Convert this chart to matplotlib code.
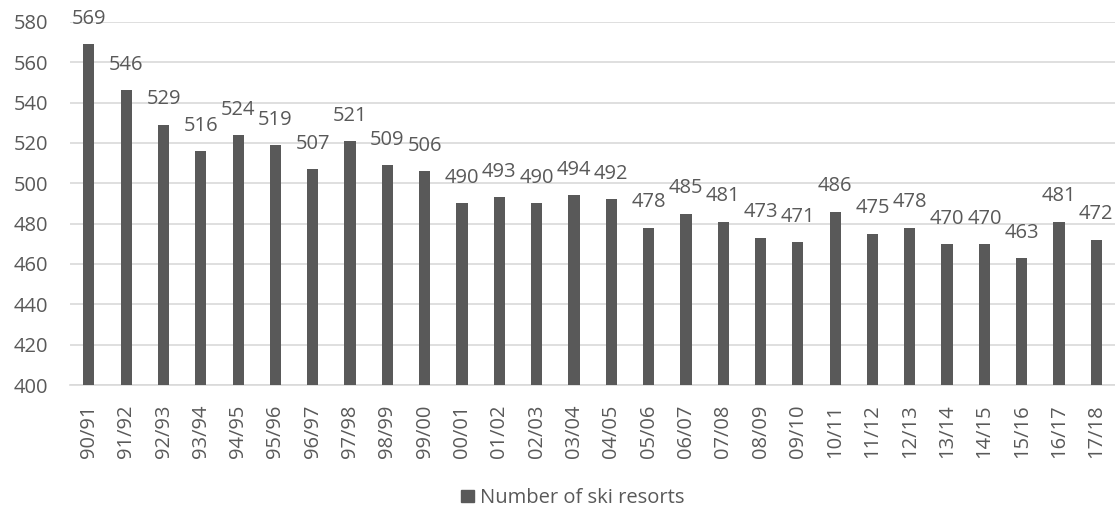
import matplotlib.pyplot as plt
from matplotlib.patches import Patch

# ski seasons and number of resorts per season
seasons = ["90/91", "91/92", "92/93", "93/94", "94/95", "95/96", "96/97", "97/98",
           "98/99", "99/00", "00/01", "01/02", "02/03", "03/04", "04/05", "05/06",
           "06/07", "07/08", "08/09", "09/10", "10/11", "11/12", "12/13", "13/14",
           "14/15", "15/16", "16/17", "17/18"]
resorts = [569, 546, 529, 516, 524, 519, 507, 521, 509, 506, 490, 493, 490, 494,
           492, 478, 485, 481, 473, 471, 486, 475, 478, 470, 470, 463, 481, 472]
yticks = [400, 420, 440, 460, 480, 500, 520, 540, 560, 580]

bar_color = "#595959"
text_color = "#595959"
grid_color = "#d9d9d9"

plt.rcParams['font.family'] = ['Open Sans', 'DejaVu Sans']
fs = 14.5

fig = plt.figure(figsize=(11.15, 5.08), dpi=100)
ax = fig.add_axes([0.063, 0.242, 0.937, 0.715])

x = range(len(seasons))
bars = ax.bar(x, resorts, width=0.3, color=bar_color, zorder=3)

# value labels above each bar
for xi, v in zip(x, resorts):
    ax.annotate(str(v), (xi, v), xytext=(0, 11), textcoords="offset points",
                ha="center", va="bottom", fontsize=fs, color=text_color)

ax.set_ylim(400, 580)
ax.set_yticks(yticks)
ax.set_xlim(-0.5, len(seasons) - 0.5)
ax.set_xticks(list(x))
ax.set_xticklabels(seasons, rotation=90)

ax.grid(axis="y", color=grid_color, linewidth=1.2, zorder=0)
for side in ["top", "right", "left"]:
    ax.spines[side].set_visible(False)
ax.spines["bottom"].set_color(grid_color)
ax.spines["bottom"].set_linewidth(1.2)
ax.tick_params(length=0, labelsize=fs, colors=text_color)
ax.tick_params(axis="y", pad=16)
ax.tick_params(axis="x", pad=14)

ax.legend(handles=[Patch(color=bar_color, label="Number of ski resorts")],
          loc="center", bbox_to_anchor=(0.481, -0.311), frameon=False,
          fontsize=fs, labelcolor=text_color, handlelength=0.6, handleheight=0.6,
          handletextpad=0.3)

fig.savefig("out.png", dpi=100)
